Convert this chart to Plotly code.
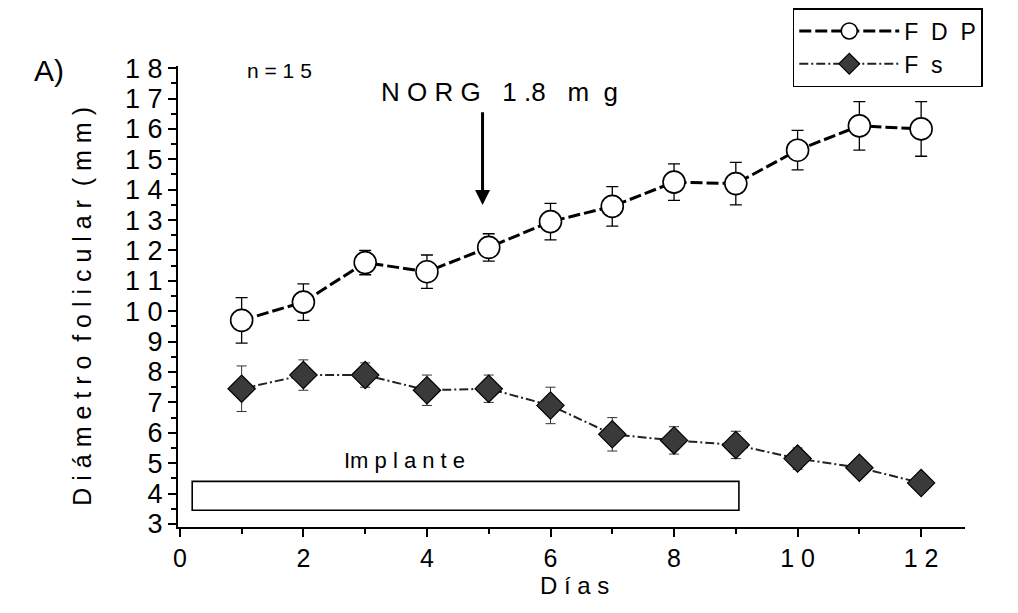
import plotly.graph_objects as go

dias = [1, 2, 3, 4, 5, 6, 7, 8, 9, 10, 11, 12]
fdp = [9.7, 10.3, 11.6, 11.3, 12.1, 12.95, 13.45, 14.25, 14.2, 15.3, 16.1, 16.0]
fdp_err = [0.75, 0.6, 0.4, 0.55, 0.45, 0.6, 0.65, 0.6, 0.7, 0.65, 0.8, 0.9]
fs = [7.45, 7.9, 7.9, 7.4, 7.45, 6.9, 5.95, 5.75, 5.6, 5.15, 4.85, 4.35]
fs_err = [0.75, 0.5, 0.4, 0.5, 0.45, 0.6, 0.55, 0.45, 0.45, 0.35, 0.2, 0.1]

y_ticks = list(range(3, 19))
y_ticktext = [" ".join(str(v)) for v in y_ticks]
x_ticks = [0, 2, 4, 6, 8, 10, 12]
x_ticktext = [" ".join(str(v)) for v in x_ticks]

implante = {"x0": 0.2, "x1": 9.05, "y0": 3.45, "y1": 4.4}
norg_day = 4.9

font = "Liberation Sans"
narrow = "Liberation Sans Narrow, Liberation Sans"

fig = go.Figure()
fig.add_trace(go.Scatter(
    x=dias, y=fdp, name="F &nbsp;D &nbsp;P", mode="lines+markers",
    line=dict(color="black", width=3, dash="12px,4px"),
    marker=dict(symbol="circle", size=22, color="white",
                line=dict(color="black", width=1.6)),
    error_y=dict(type="data", array=fdp_err, color="black",
                 thickness=1.3, width=6),
))
fig.add_trace(go.Scatter(
    x=dias, y=fs, name="F &nbsp;s", mode="lines+markers",
    line=dict(color="#222222", width=2, dash="9px,3px,2px,3px"),
    marker=dict(symbol="diamond", size=21, color="#3a3a3a",
                line=dict(color="black", width=1.2)),
    error_y=dict(type="data", array=fs_err, color="#333333",
                 thickness=1, width=5),
))

fig.add_shape(type="rect", xref="x", yref="y",
              x0=implante["x0"], x1=implante["x1"],
              y0=implante["y0"], y1=implante["y1"],
              line=dict(color="black", width=1.6), fillcolor="white", layer="below")

fig.add_annotation(x=norg_day, y=13.5, ax=norg_day, ay=16.6,
                   xref="x", yref="y", axref="x", ayref="y",
                   showarrow=True, arrowhead=2, arrowsize=1, arrowwidth=3,
                   arrowcolor="black", text="")
fig.add_annotation(x=5.18, y=17.2, xref="x", yref="y", showarrow=False,
                   xanchor="center", yanchor="middle",
                   text="N O R G &nbsp; 1 .8 &nbsp; m &nbsp;g",
                   font=dict(family=font, size=26, color="black"))
fig.add_annotation(x=1.05, y=17.93, xref="x", yref="y", showarrow=False,
                   xanchor="left", yanchor="middle", text="n = 1 5",
                   font=dict(family=font, size=21, color="black"))
fig.add_annotation(x=3.63, y=5.1, xref="x", yref="y", showarrow=False,
                   xanchor="center", yanchor="middle",
                   text="Im p l a n t e",
                   font=dict(family=font, size=22, color="black"))
fig.add_annotation(x=-0.185, y=0.991, xref="paper", yref="paper", showarrow=False,
                   xanchor="left", yanchor="middle", text="A)",
                   font=dict(family=font, size=30, color="black"))
fig.add_annotation(x=-0.122, y=0.48, xref="paper", yref="paper", showarrow=False,
                   xanchor="center", yanchor="middle", textangle=-90,
                   text="D i á m e t r o &nbsp;f o l i c u l a r &nbsp;( m m )",
                   font=dict(family=font, size=25, color="black"))
fig.add_annotation(x=0.504, y=-0.126, xref="paper", yref="paper", showarrow=False,
                   xanchor="center", yanchor="middle",
                   text="D í a s",
                   font=dict(family=font, size=24, color="black"))

# the page body adds an 8px offset; the figure is sized so that the plot area
# lands at the reference position inside the 1018x613 window
fig.update_layout(
    width=1010, height=605,
    margin=dict(l=170, r=53, t=58, b=86, autoexpand=False),
    paper_bgcolor="white", plot_bgcolor="white",
    font=dict(family=font, size=20, color="black"),
    showlegend=True,
    legend=dict(x=0.777, y=1.0, xref="container", yref="container",
                xanchor="left", yanchor="top",
                bordercolor="black", borderwidth=1.5, bgcolor="white",
                font=dict(family=font, size=23, color="black"),
                itemwidth=100, tracegroupgap=0),
    xaxis=dict(range=[-0.03, 12.71], tickmode="array", tickvals=x_ticks,
               ticktext=x_ticktext, showgrid=False, zeroline=False,
               showline=True, linecolor="black", linewidth=2,
               ticks="outside", ticklen=8, tickwidth=2, tickcolor="black",
               minor=dict(dtick=1, ticks="outside", ticklen=5, tickwidth=2,
                          tickcolor="black", showgrid=False),
               tickfont=dict(family=narrow, size=25)),
    yaxis=dict(range=[2.9, 18.07], tickmode="array", tickvals=y_ticks,
               ticktext=y_ticktext, showgrid=False, zeroline=False,
               showline=True, linecolor="black", linewidth=2,
               ticks="outside", ticklen=8, tickwidth=2, tickcolor="black",
               minor=dict(dtick=0.5, ticks="outside", ticklen=5, tickwidth=1.5,
                          tickcolor="black", showgrid=False),
               tickfont=dict(family=font, size=27)),
)

fig.write_html("out.html")
